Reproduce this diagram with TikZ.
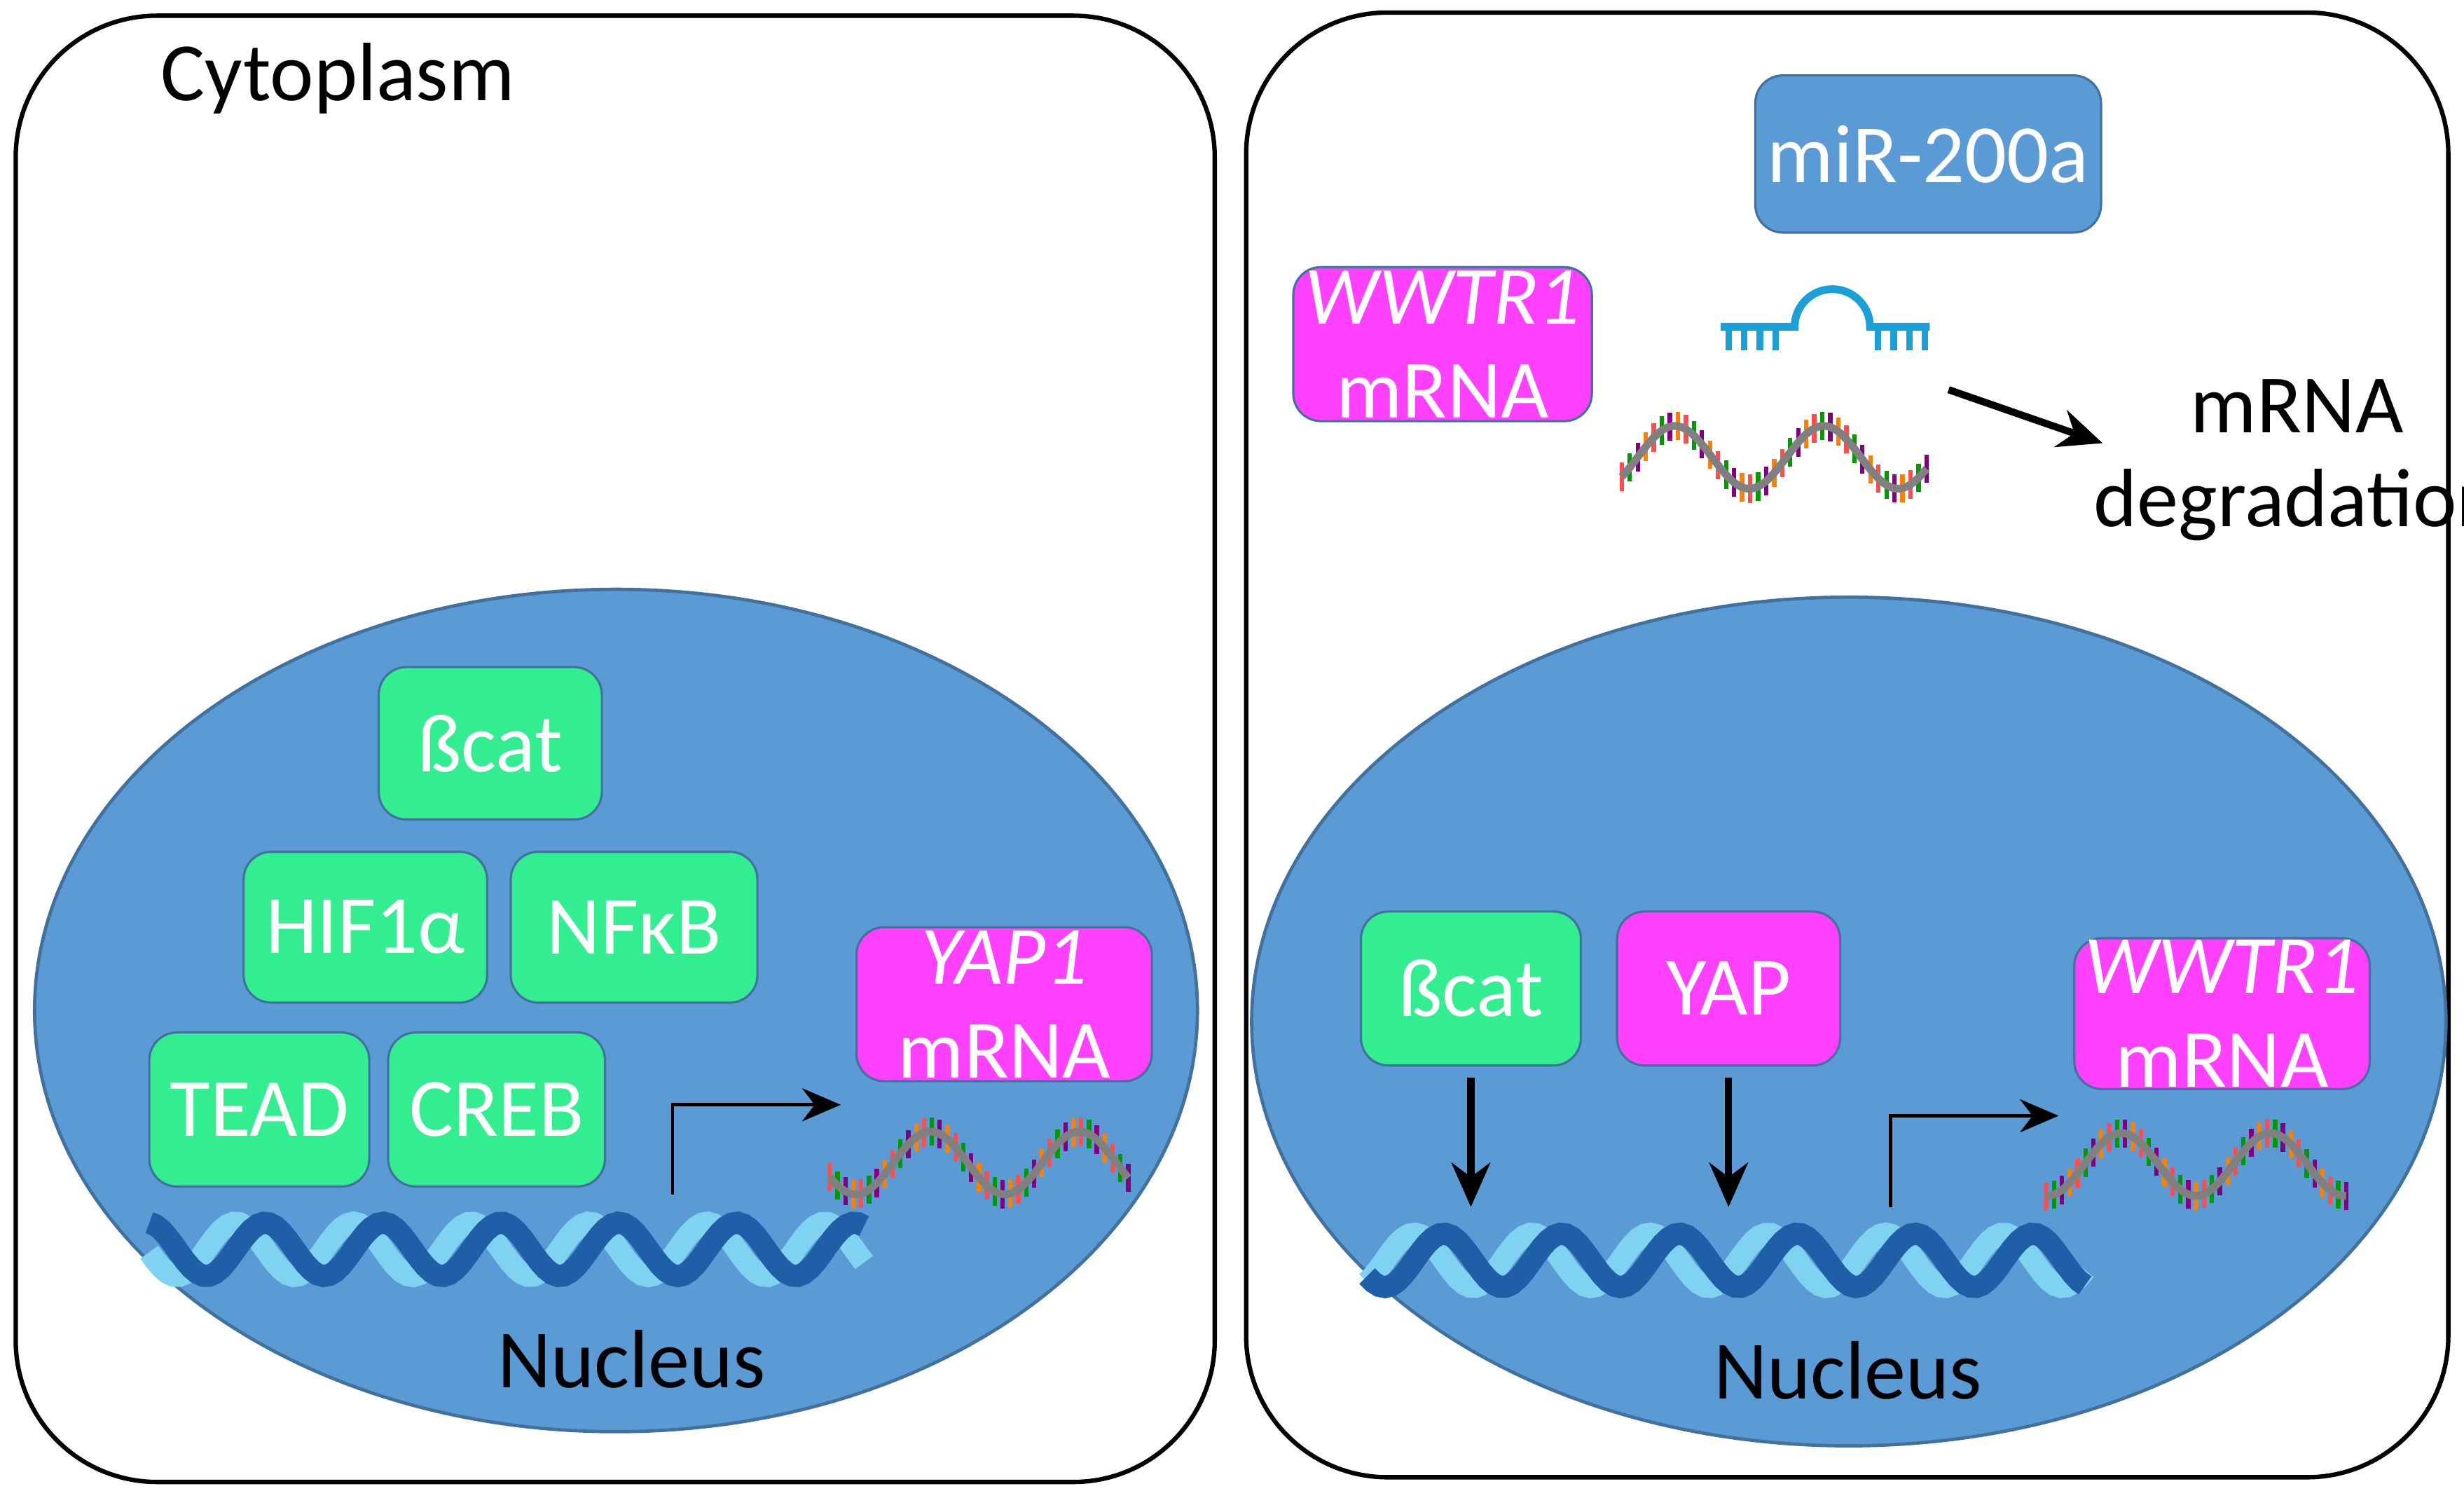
\documentclass[tikz,border=0pt]{standalone}
\usepackage{fontspec}
\setmainfont{Carlito}
\usetikzlibrary{positioning}
\usetikzlibrary{arrows.meta}
\definecolor{nucblue}{HTML}{5B9BD5}
\definecolor{nucedge}{HTML}{41719C}
\definecolor{tfgreen}{HTML}{33EE90}
\definecolor{rnapink}{HTML}{FF40FF}
\definecolor{dnadark}{HTML}{1F5FA8}
\definecolor{dnalight}{HTML}{7FD3F0}
\definecolor{mirblue}{HTML}{1A9FD6}
\tikzset{
    cell/.style={draw,line width=0.8pt,rounded corners=0.9cm},
    nucleus/.style={draw=nucedge,fill=nucblue,line width=0.6pt},
    factor/.style={draw=nucedge,fill=tfgreen,rounded corners=5pt,text=white,
        font=\fontsize{15}{17}\selectfont,align=center,inner sep=0pt},
    transcript/.style={factor,fill=rnapink},
    txt/.style={font=\fontsize{15}{17}\selectfont,align=center},
    arr/.style={-{Stealth[length=8pt,width=7pt]},line width=1.3pt},
    bent/.style={-{Stealth[length=7pt,width=6pt]},line width=0.6pt},
}
\newcommand{\helix}[3]{% x0, x1, yc
    \draw[dnalight,line width=4pt] plot[domain=#1:#2,samples=120]
        (\x,{#3+0.17*sin(\x*480+90)});
    \draw[dnadark,line width=4pt] plot[domain=#1:#2,samples=120]
        (\x,{#3+0.17*sin(\x*480)});
}
\newcommand{\rnawave}[3]{% x0, x1, yc
    \foreach \i in {0,...,38}{
        \pgfmathsetmacro{\tt}{#1+\i*(#2-#1)/38}
        \pgfmathsetmacro{\yy}{#3+0.2*sin(\tt*380)}
        \pgfmathtruncatemacro{\colidx}{mod(\i,4)}
        \ifcase\colidx \def\tcol{red!70}\or\def\tcol{green!60!black}\or\def\tcol{violet}\else\def\tcol{orange}\fi
        \draw[\tcol,line width=0.8pt] (\tt,{\yy-0.09}) -- (\tt,{\yy+0.09});
    }
    \draw[gray,line width=1.4pt] plot[domain=#1:#2,samples=80]
        (\x,{#3+0.2*sin(\x*380)});
}
\begin{document}
\begin{tikzpicture}
    \useasboundingbox (0,0) rectangle (15.68,9.53);
    % cells
    \draw[cell] (0.10,0.10) rectangle (7.73,9.43);
    \draw[cell] (7.93,0.13) rectangle (15.58,9.45);
    \node[txt] (cyto) at (2.15,9.03) {Cytoplasm};

    % left nucleus
    \fill[nucleus] (3.92,3.10) ellipse (3.70cm and 2.68cm);
    \node[txt] (nucL) at (4.02,0.88) {Nucleus};
    \node[factor,minimum width=1.42cm,minimum height=0.97cm] (bcatL) at (3.12,4.80) {ßcat};
    \node[factor,minimum width=1.55cm,minimum height=0.96cm] (hif) at (2.325,3.63) {HIF1α};
    \node[factor,minimum width=1.57cm,minimum height=0.96cm] (nfkb) at (4.035,3.63) {NFκB};
    \node[factor,minimum width=1.40cm,minimum height=0.98cm] (tead) at (1.65,2.47) {TEAD};
    \node[factor,minimum width=1.38cm,minimum height=0.98cm] (creb) at (3.16,2.47) {CREB};
    \node[transcript,minimum width=1.88cm,minimum height=0.98cm] (yap1) at (6.39,3.14) {\textit{YAP1}\\mRNA};
    \helix{0.95}{5.50}{1.58}
    \rnawave{5.28}{7.18}{2.13}
    \coordinate (tssL) at (4.28,1.93);
    \coordinate (outL) at (5.35,2.50);
    \draw[bent] (tssL) |- (outL);

    % right nucleus
    \fill[nucleus] (11.765,3.03) ellipse (3.80cm and 2.70cm);
    \node[txt] (nucR) at (11.76,0.81) {Nucleus};
    \node[factor,minimum width=1.40cm,minimum height=0.98cm] (bcatR) at (9.36,3.24) {ßcat};
    \node[transcript,minimum width=1.42cm,minimum height=0.98cm] (yap) at (11.00,3.24) {YAP};
    \node[transcript,minimum width=1.88cm,minimum height=0.96cm] (wwtrN) at (14.14,3.08) {\textit{WWTR1}\\mRNA};
    \helix{8.70}{13.27}{1.51}
    \rnawave{13.02}{14.93}{2.12}
    \coordinate (bindB) at (9.36,1.85);
    \coordinate (bindY) at (11.00,1.85);
    \draw[arr] (bcatR.south) ++(0,-0.07) -- (bindB);
    \draw[arr] (yap.south) ++(0,-0.07) -- (bindY);
    \coordinate (tssR) at (12.03,1.85);
    \coordinate (outR) at (13.10,2.43);
    \draw[bent] (tssR) |- (outR);

    % cytoplasm, right
    \node[factor,fill=nucblue,minimum width=2.20cm,minimum height=1.00cm] (mir) at (12.27,8.55) {miR-200a};
    \node[transcript,minimum width=1.90cm,minimum height=0.98cm] (wwtrC) at (9.18,7.34) {\textit{WWTR1}\\mRNA};
    % hairpin
    \draw[mirblue,line width=1.4pt] (10.95,7.45) -- (11.42,7.45) arc (180:0:0.24) -- (12.28,7.45);
    \foreach \x in {11.00,11.10,...,11.40,11.95,12.05,...,12.30}
        \draw[mirblue,line width=1.2pt] (\x,7.45) -- (\x,7.30);
    \rnawave{10.32}{12.26}{6.62}
    \coordinate (degS) at (12.40,7.05);
    \node[txt,anchor=west] (deg) at (13.20,6.60) {mRNA\\degradation};
    \coordinate (degE) at (13.38,6.71);
    \draw[arr] (degS) -- (degE);
\end{tikzpicture}
\end{document}
